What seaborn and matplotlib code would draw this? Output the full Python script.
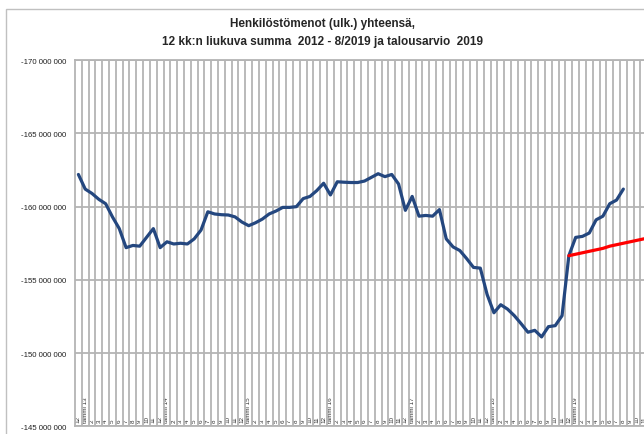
import numpy as np
import pandas as pd
import matplotlib.pyplot as plt
import seaborn as sns
from matplotlib.ticker import MultipleLocator, FuncFormatter

sns.set_theme(style="white")
# fontit asetetaan set_themen jälkeen
plt.rcParams['font.family'] = ['Liberation Sans', 'DejaVu Sans']

# kategoria-akselin nimet: 12/2012 ... 12/2019
kuukaudet = ["12"]
for vuosi in range(13, 20):
    kuukaudet += ["tammi %d" % vuosi] + [str(m) for m in range(2, 13)]

# 12 kk:n liukuva summa, milj. euroa (12/2012 - 8/2019)
toteutuma = [
    -162.2, -161.2, -160.9, -160.5, -160.2, -159.3, -158.5, -157.2, -157.35, -157.3,
    -157.9, -158.5, -157.2, -157.6, -157.45, -157.5, -157.45, -157.8, -158.4, -159.65,
    -159.5, -159.45, -159.43, -159.3, -158.95, -158.7, -158.9, -159.15, -159.5, -159.7,
    -159.95, -159.95, -160.0, -160.55, -160.7, -161.1, -161.6, -160.8, -161.7, -161.67,
    -161.65, -161.65, -161.75, -162.0, -162.25, -162.05, -162.2, -161.55, -159.75, -160.7,
    -159.35, -159.4, -159.35, -159.8, -157.8, -157.25, -157.0, -156.45, -155.85, -155.8,
    -154.0, -152.75, -153.3, -153.0, -152.55, -152.0, -151.42, -151.55, -151.1, -151.8,
    -151.87, -152.55, -156.65, -157.9, -157.97, -158.2, -159.1, -159.35, -160.2, -160.45,
    -161.2,
]

# talousarvio 2019, milj. euroa (12/2018 - 12/2019)
talousarvio = [
    -156.65, -156.75, -156.85, -156.95, -157.05, -157.15, -157.3, -157.4,
    -157.5, -157.6, -157.7, -157.8, -157.9,
]

df_tot = pd.DataFrame({'kk': range(len(toteutuma)),
                       'euroa': np.array(toteutuma) * 1e6})
alku = len(kuukaudet) - len(talousarvio)
df_ta = pd.DataFrame({'kk': range(alku, alku + len(talousarvio)),
                      'euroa': np.array(talousarvio) * 1e6})

fig = plt.figure(figsize=(6.44, 4.35), dpi=100)
ax = fig.add_axes([75 / 644, 1 - 427.2 / 435, 579 / 644, (427.2 - 61.3) / 435])

harmaa = '#b4b4b4'

sns.lineplot(data=df_tot, x='kk', y='euroa', color='#24477f', linewidth=2.3, ax=ax)
sns.lineplot(data=df_ta, x='kk', y='euroa', color='#ff0000', linewidth=2.3, ax=ax)

ax.set_xlim(-0.5, len(kuukaudet) - 0.5)
ax.set_ylim(-145e6, -170e6)
ax.yaxis.set_major_locator(MultipleLocator(5e6))
ax.yaxis.set_major_formatter(FuncFormatter(lambda v, p: f"{v:,.0f}".replace(",", " ")))

ax.set_xticks(range(len(kuukaudet)))
ax.set_xticklabels(kuukaudet, rotation=90, fontsize=4.5, color='#303030', va='bottom')
ax.set_xticks(np.arange(len(kuukaudet)) + 0.5, minor=True)
ax.tick_params(axis='x', which='both', length=0, pad=-3)
ax.tick_params(axis='y', length=3, labelsize=5.6, pad=3, labelcolor='#202020', color=harmaa)

ax.grid(True, which='minor', axis='x', color=harmaa, linewidth=1.3)
ax.grid(True, which='major', axis='y', color=harmaa, linewidth=1.3)
for s in ax.spines.values():
    s.set_color(harmaa)
    s.set_linewidth(1.3)

ax.set_xlabel('')
ax.set_ylabel('')

fig.text(0.5, 1 - 33 / 435,
         "Henkilöstömenot (ulk.) yhteensä,\n12 kk:n liukuva summa  2012 - 8/2019 ja talousarvio  2019",
         ha='center', va='center', fontsize=8.5, fontweight='bold', linespacing=1.75)

# kaavioalueen reunus
fig.patches.append(plt.Rectangle((6 / 644, -0.05), 1.0, 1 - 10 / 435 + 0.05,
                                 transform=fig.transFigure, fill=False,
                                 edgecolor='#c0c0c0', linewidth=1))

fig.savefig('out.png', dpi=100)
